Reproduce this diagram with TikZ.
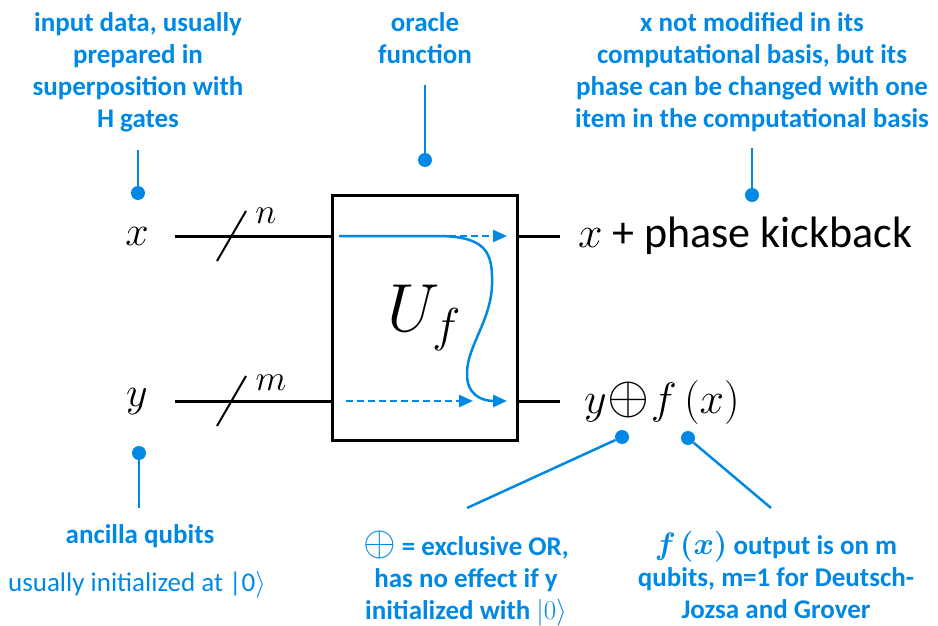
\RequirePackage{fix-cm}
\documentclass[tikz,border=0pt]{standalone}
\usepackage[no-math]{fontspec}
\setmainfont{Carlito}
\usetikzlibrary{arrows.meta}
\definecolor{ablue}{RGB}{0,136,229}
\begin{document}
\begin{tikzpicture}[x=1pt,y=-1pt,
  wire/.style={line width=3pt, draw=black},
  pin/.style={draw=ablue, line width=2.5pt},
  blob/.style={circle, fill=ablue, inner sep=0pt, minimum size=14pt},
  note/.style={text=ablue, font=\fontsize{27}{32}\selectfont\bfseries, align=center, inner sep=0pt, anchor=north},
  flow/.style={draw=ablue, line width=2.5pt, -{Triangle[length=14pt,width=12pt]}},
  dflow/.style={flow, dash pattern=on 7pt off 4pt},
  big/.style={font=\fontsize{42}{50}\selectfont, inner sep=0pt},
  lab/.style={font=\fontsize{36}{40}\selectfont, inner sep=0pt},
]
\useasboundingbox (0,0) rectangle (938,626);

% oracle box
\node[draw, line width=3pt, minimum width=185pt, minimum height=245pt, inner sep=0pt] (box) at (424.5,317.5) {};
\node[font=\fontsize{68}{80}\selectfont, inner sep=0pt] (uf) at (424,318) {$U_f$};

% wires
\coordinate (xin) at (175,236);
\coordinate (yin) at (175,401);
\coordinate (xout) at (560,236);
\coordinate (yout) at (560,401);
\draw[wire] (xin) -- (box.west |- xin);
\draw[wire] (yin) -- (box.west |- yin);
\draw[wire] (box.east |- xout) -- (xout);
\draw[wire] (box.east |- yout) -- (yout);

% slashes
\coordinate (sx1) at (217,261); \coordinate (sx2) at (246,211);
\coordinate (sy1) at (217,426); \coordinate (sy2) at (246,376);
\draw[line width=2pt] (sx1) -- (sx2);
\draw[line width=2pt] (sy1) -- (sy2);
\node[lab] (nlab) at (266,216) {$n$};
\node[lab] (mlab) at (271,383) {$m$};

% labels
\node[big] (xl) at (137,236) {$x$};
\node[big] (yl) at (137,402) {$y$};
\node[big, font=\fontsize{44}{50}\selectfont, anchor=west] (xo) at (578,236) {$x$ + phase kickback};
\node[big, font=\fontsize{44}{50}\selectfont, anchor=west] (yo) at (584,402) {$y$\kern1pt{\fontsize{54}{50}\selectfont$\oplus$}\kern1pt$f\mkern3mu(x)$};

% flows inside box
\coordinate (c1) at (339,236);
\coordinate (c1t) at (507,401);
\draw[flow] (c1) -- (440,236) .. controls (486,237) and (493,252) .. (492,285)
   .. controls (491,320) and (468,345) .. (467,372)
   .. controls (466,395) and (482,401) .. (c1t);
\coordinate (d1s) at (438,236); \coordinate (d1t) at (507,236);
\coordinate (d2s) at (346,401); \coordinate (d2t) at (473,401);
\draw[dflow] (d1s) -- (d1t);
\draw[dflow] (d2s) -- (d2t);

% annotations top
\node[note] (ntl) at (138,12) {input data, usually\\prepared in\\superposition with\\H gates};
\coordinate (etl) at (138,150);
\node[blob] (dtl) at (138,193) {};
\draw[pin] (etl) -- (dtl);

\node[note] (ntm) at (425,12) {oracle\\function};
\coordinate (etm) at (425,85);
\node[blob] (dtm) at (425,160) {};
\draw[pin] (etm) -- (dtm);

\node[note] (ntr) at (752,12) {x not modified in its\\computational basis, but its\\phase can be changed with one\\item in the computational basis};
\coordinate (etr) at (752,148);
\node[blob] (dtr) at (752,195) {};
\draw[pin] (etr) -- (dtr);

% annotations bottom
\node[blob] (dbl) at (139,453) {};
\coordinate (ebl) at (139,508);
\draw[pin] (dbl) -- (ebl);
\node[note] (nbl) at (140,524) {ancilla qubits};
\node[note, font=\fontsize{27}{32}\selectfont] (nbl2) at (137,571) {usually initialized at |0$\rangle$};

\node[blob] (dbm) at (622,437) {};
\coordinate (ebm) at (467,508);
\draw[pin] (dbm) -- (ebm);
\node[note] (nbm) at (466,531) {{\fontsize{42}{32}\selectfont$\oplus$} = exclusive OR,\\has no effect if y\\initialized with $|0\rangle$};

\node[blob] (dbr) at (688,438) {};
\coordinate (ebr) at (771,508);
\draw[pin] (dbr) -- (ebr);
\node[note] (nbr) at (776,531) {{\fontsize{31}{32}\selectfont\boldmath$f\mkern2mu(x)$} output is on m\\qubits, m=1 for Deutsch-\\Jozsa and Grover};
\end{tikzpicture}
\end{document}
